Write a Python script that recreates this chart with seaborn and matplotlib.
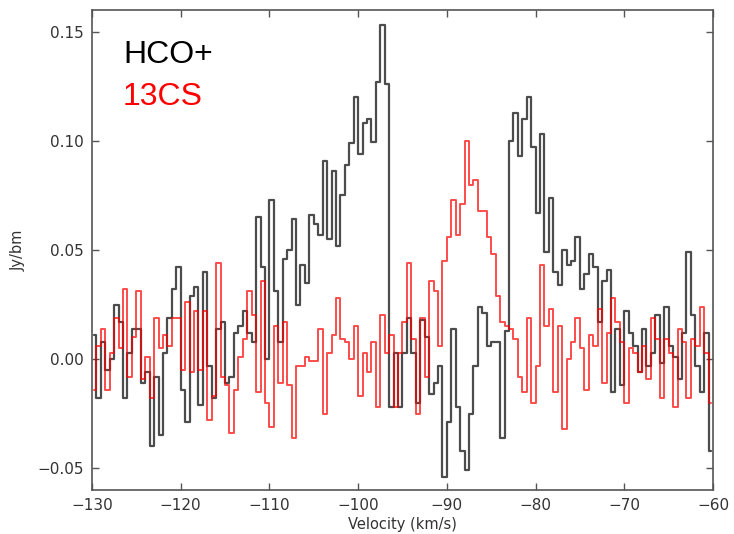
import numpy as np
import pandas as pd
import matplotlib
matplotlib.use("Agg")
import matplotlib.pyplot as plt
import seaborn as sns

# Velocity grid (channel centres, km/s)
v_start = -129.75
chan_width = 0.5
n_chan = 140
velocity = v_start + chan_width * np.arange(n_chan)

hco_plus = [
    0.011, -0.018, 0.008, -0.005, 0.000, 0.025, 0.017, -0.018, 0.003, 0.014,
    0.014, -0.011, -0.006, -0.040, -0.008, -0.035, 0.003, 0.019, 0.032, 0.042,
    -0.014, -0.029, 0.029, 0.033, -0.021, 0.040, -0.003, -0.018, 0.014, 0.017,
    -0.011, -0.008, 0.012, 0.015, 0.022, 0.012, 0.008, 0.065, 0.042, 0.000,
    0.073, 0.031, 0.008, 0.046, 0.050, 0.064, 0.025, 0.043, 0.035, 0.066,
    0.062, 0.057, 0.091, 0.055, 0.086, 0.052, 0.075, 0.089, 0.099, 0.120,
    0.094, 0.108, 0.110, 0.0995, 0.127, 0.153, 0.126, -0.022, 0.003, -0.022,
    0.003, 0.019, 0.003, -0.020, 0.018, 0.010, -0.016, -0.011, -0.003, -0.054,
    -0.029, 0.014, -0.022, -0.042, -0.051, -0.025, -0.003, 0.024, 0.021, 0.006,
    0.008, 0.008, -0.036, 0.013, 0.100, 0.113, 0.093, 0.110, 0.120, 0.097,
    0.067, 0.103, 0.049, 0.074, 0.040, 0.034, 0.050, 0.043, 0.045, 0.056,
    0.032, 0.039, 0.048, 0.042, 0.017, 0.036, 0.041, -0.015, 0.014, -0.012,
    0.022, 0.012, 0.006, -0.006, 0.014, -0.003, 0.003, 0.020, -0.002, 0.024,
    0.006, 0.001, -0.009, 0.012, 0.049, 0.020, -0.003, -0.015, 0.012, -0.042,
]

cs13 = [
    -0.014, 0.006, 0.014, -0.014, 0.003, 0.019, 0.005, 0.032, -0.008, 0.010,
    0.031, -0.009, 0.001, -0.018, 0.019, 0.005, 0.011, 0.006, 0.019, 0.019,
    -0.005, 0.026, -0.006, 0.022, -0.005, 0.022, -0.028, -0.017, 0.044, -0.008,
    -0.012, -0.034, -0.014, 0.001, 0.009, 0.031, 0.020, -0.015, 0.036, -0.020,
    -0.031, 0.015, -0.011, 0.017, -0.012, -0.036, -0.003, -0.003, 0.001, -0.001,
    -0.001, 0.014, -0.025, 0.003, 0.011, 0.028, 0.009, 0.008, 0.000, 0.015,
    -0.017, 0.003, -0.006, 0.008, -0.022, 0.020, 0.003, 0.011, -0.022, 0.003,
    0.017, 0.044, 0.009, -0.025, 0.019, -0.008, 0.036, 0.031, 0.006, 0.045,
    0.056, 0.073, 0.057, 0.071, 0.100, 0.080, 0.082, 0.068, 0.068, 0.056,
    0.048, 0.029, 0.017, 0.015, 0.014, 0.009, -0.008, -0.015, 0.019, -0.020,
    -0.003, 0.043, 0.015, 0.023, -0.015, 0.015, -0.032, 0.000, 0.008, 0.019,
    0.005, -0.014, 0.011, 0.006, 0.023, -0.011, 0.012, 0.028, 0.017, 0.008,
    -0.020, 0.005, 0.003, -0.006, 0.006, -0.009, 0.019, 0.009, -0.018, 0.009,
    0.003, -0.022, 0.014, 0.008, -0.018, 0.009, 0.006, 0.024, 0.003, -0.020,
]

x_ticks = [-130, -120, -110, -100, -90, -80, -70, -60]
y_ticks = [-0.05, 0.00, 0.05, 0.10, 0.15]
y_tick_labels = ["\u22120.05", "0.00", "0.05", "0.10", "0.15"]

df = pd.DataFrame({"velocity": velocity, "HCO+": hco_plus, "13CS": cs13})

sns.set_style("ticks")
plt.rcParams["font.family"] = ["DejaVu Sans"]

fig = plt.figure(figsize=(7.34, 5.34), dpi=100)
ax = fig.add_axes([0.1253, 0.0824, 0.8461, 0.8989])

sns.lineplot(data=df, x="velocity", y="HCO+", ax=ax, color="black", alpha=0.7,
             lw=1.6, drawstyle="steps-mid")
sns.lineplot(data=df, x="velocity", y="13CS", ax=ax, color="red", alpha=0.7,
             lw=1.4, drawstyle="steps-mid")

ax.set_xlim(-130, -60)
ax.set_ylim(-0.06, 0.16)
ax.set_xticks(x_ticks)
ax.set_xticklabels([f"\u2212{abs(t)}" for t in x_ticks])
ax.set_yticks(y_ticks)
ax.set_yticklabels(y_tick_labels)
ax.tick_params(direction="in", top=True, right=True, length=5, width=1,
               color="#555555", labelsize=11, labelcolor="#333333", pad=6)
for s in ax.spines.values():
    s.set_color("#555555")
    s.set_linewidth(1.2)

ax.set_xlabel("Velocity (km/s)", fontsize=10.5, color="#333333", labelpad=3)
ax.set_ylabel("Jy/bm", fontsize=10.5, color="#333333", labelpad=8)

ax.text(0.05, 0.89, "HCO+", transform=ax.transAxes, fontsize=23,
        color="black", family="Liberation Sans", va="baseline")
ax.text(0.05, 0.802, "13CS", transform=ax.transAxes, fontsize=23,
        color="red", family="Liberation Sans", va="baseline")

fig.savefig("out.png", dpi=100, facecolor="white")
